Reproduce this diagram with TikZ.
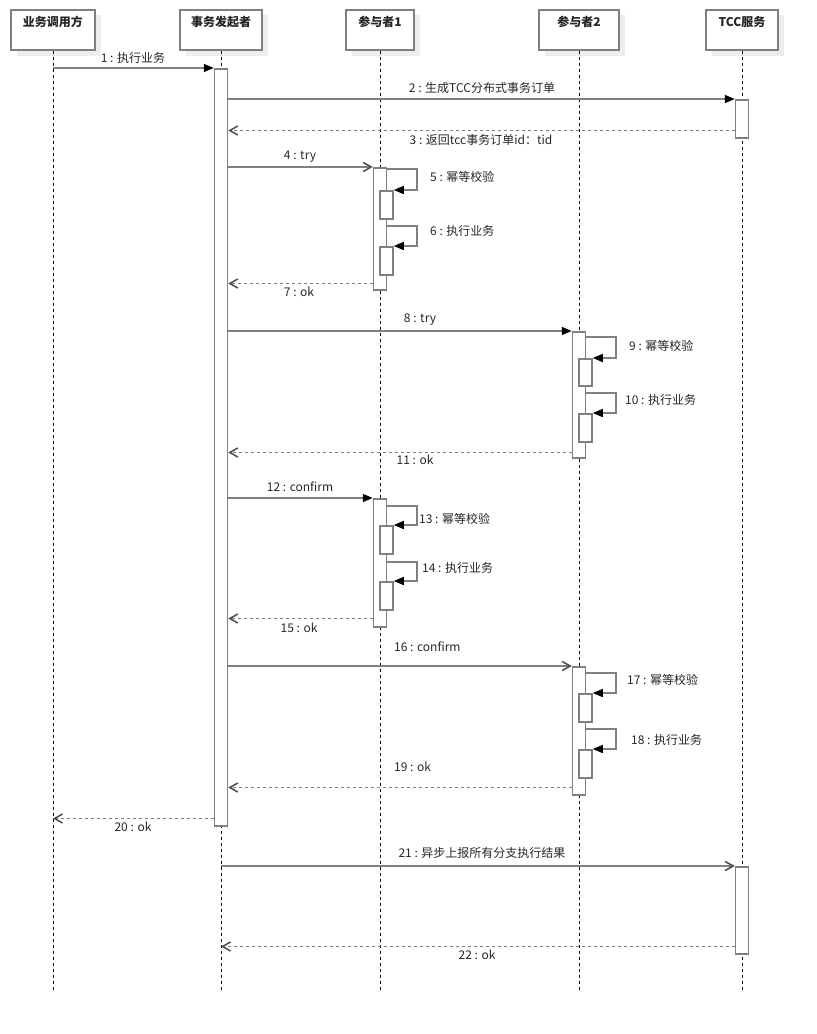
\documentclass[tikz,border=0pt]{standalone}
\usepackage{fontspec}
\setmainfont{Noto Sans CJK SC}
\usetikzlibrary{arrows.meta}
\definecolor{umlgray}{HTML}{808080}
\definecolor{shadegray}{HTML}{EDEDED}
\begin{document}
\begin{tikzpicture}
[x=1pt,y=-1pt,
  headdecorate/.style={draw=umlgray,line width=1.5pt,fill=white,minimum height=40pt,inner sep=0pt,anchor=north},
  lifedecorate/.style={black,line width=0.8pt,dash pattern=on 3pt off 3pt},
  actdecorate/.style={draw=umlgray,line width=1.5pt,fill=white,minimum width=13pt,inner sep=0pt,anchor=north},
  calldecorate/.style={draw=umlgray,line width=1.5pt,-{Triangle[length=10pt,width=8pt,black]}},
  asyncdecorate/.style={draw=umlgray,line width=1.5pt,-{Straight Barb[length=8pt,width=9pt,black!70]}},
  retdecorate/.style={asyncdecorate,dash pattern=on 3pt off 3pt},
  textdecorate/.style={font=\fontsize{12}{14}\selectfont,text=black!85,inner sep=0pt}]
\useasboundingbox (0,0) rectangle (817,1034);
%% participants and lifelines
\foreach \name/\x/\w/\title in {
  caller/53/84/业务调用方, init/221/82/事务发起者, pone/380/68/参与者1,
  ptwo/579/80/参与者2, tcc/742/72/TCC服务}
{
  \fill [shadegray] (\x-\w/2+6,15) rectangle (\x+\w/2+6,56);
  \node (\name) at (\x,9) [headdecorate,minimum width=\w pt] {};
  \node (t\name) at (\x,22) [textdecorate,font=\bfseries\fontsize{12}{14}\selectfont] {\title};
  \coordinate (e\name) at (\x,990);
  \draw [lifedecorate] (\name.south) -- (e\name);
}
%% activation bars
\foreach \name/\x/\y/\h in {
  initA/221/68/757, tccA1/742/99/38,
  ponA1/380/167/122, ponA5/386.5/190/28, ponA6/386.5/246/28,
  ptwA1/579/331/126, ptwA9/585.5/358/27, ptwA10/585.5/413/28,
  ponB1/380/498/128, ponB13/386.5/525/28, ponB14/386.5/581/28,
  ptwB1/579/666/128, ptwB17/585.5/693/28, ptwB18/585.5/749/28,
  tccA2/742/866/87}
  \node (\name) at (\x,\y) [actdecorate,minimum height=\h pt] {};
%% messages
\draw [calldecorate] (caller |- initA.north) -- (initA.north west);
\draw [calldecorate] (tccA1.north west -| initA.east) -- (tccA1.north west);
\coordinate (m3) at ([yshift=8pt]tccA1.south west);
\draw [retdecorate] (m3) -- (m3 -| initA.east);
\draw [asyncdecorate] (ponA1.north west -| initA.east) -- (ponA1.north west);
\coordinate (m7) at ([yshift=7pt]ponA1.south west);
\draw [retdecorate] (m7) -- (m7 -| initA.east);
\draw [calldecorate] (ptwA1.north west -| initA.east) -- (ptwA1.north west);
\coordinate (m11) at ([yshift=6pt]ptwA1.south west);
\draw [retdecorate] (m11) -- (m11 -| initA.east);
\draw [calldecorate] (ponB1.north west -| initA.east) -- (ponB1.north west);
\coordinate (m15) at ([yshift=9pt]ponB1.south west);
\draw [retdecorate] (m15) -- (m15 -| initA.east);
\draw [asyncdecorate] (ptwB1.north west -| initA.east) -- (ptwB1.north west);
\coordinate (m19) at ([yshift=8pt]ptwB1.south west);
\draw [retdecorate] (m19) -- (m19 -| initA.east);
\coordinate (m20) at ([yshift=8pt]initA.south west);
\draw [retdecorate] (m20) -- (m20 -| caller);
\draw [asyncdecorate] (tccA2.north west -| init) -- (tccA2.north west);
\coordinate (m22) at ([yshift=8pt]tccA2.south west);
\draw [retdecorate] (m22) -- (m22 -| init);
%% self calls
\foreach \host/\nest/\up/\lx/\ly/\txt in {
  ponA1/ponA5/21/430/177/5 : 幂等校验, ponA1/ponA6/20/430/231/6 : 执行业务,
  ptwA1/ptwA9/21/629/346/9 : 幂等校验, ptwA1/ptwA10/20/625/400/10 : 执行业务,
  ponB1/ponB13/19/419/519/13 : 幂等校验, ponB1/ponB14/19/422/568/14 : 执行业务,
  ptwB1/ptwB17/20/627/680/17 : 幂等校验, ptwB1/ptwB18/20/631/740/18 : 执行业务}
{
  \coordinate (o\nest) at ([yshift=\up pt]\nest.north east);
  \draw [calldecorate] (o\nest -| \host.east) -- ([xshift=23pt]o\nest)
    -- ([xshift=23pt]\nest.north east) -- (\nest.north east);
  \node (t\nest) at (\lx,\ly) [textdecorate,anchor=west] {\txt};
}
%% message labels
\foreach \name/\x/\y/\txt in {
  lone/133/58/1 : 执行业务, ltwo/482/88/2 : 生成TCC分布式事务订单,
  lthree/481/140/3 : 返回tcc事务订单id：tid, lfour/300/157/4 : try,
  lseven/299/292/7 : ok, leight/420/320/8 : try, leleven/415/460/11 : ok,
  ltwelve/300/487/12 : confirm, lfifteen/299/628/15 : ok,
  ltwenty/133/827/20 : ok, ltwentyone/482/853/21 : 异步上报所有分支执行结果,
  ltwentytwo/477/955/22 : ok}
  \node (\name) at (\x,\y) [textdecorate] {\txt};
\node (lsixteen) at (394,647) [textdecorate,anchor=west] {16 : confirm};
\node (lnineteen) at (394,767) [textdecorate,anchor=west] {19 : ok};
\end{tikzpicture}
\end{document}
